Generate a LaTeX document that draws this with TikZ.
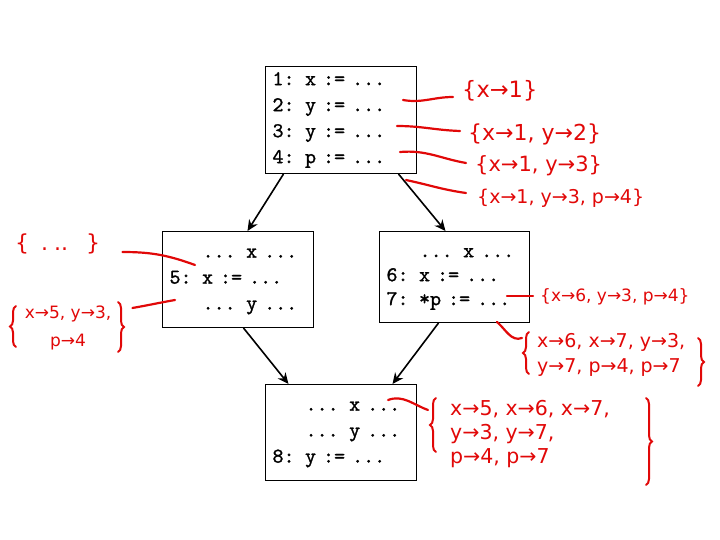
\documentclass[tikz,border=0pt]{standalone}
\usepackage{fontspec}
\newfontfamily\hand{DejaVu Sans}
\newfontfamily\codefont{lmmono10-regular.otf}[FakeBold=1.2]
\usetikzlibrary{arrows.meta,decorations.pathreplacing}
\definecolor{ink}{RGB}{225,8,8}
\newcommand{\ind}{\phantom{000}}
\begin{document}
\begin{tikzpicture}[x=1pt,y=-1pt,
  codebox/.style={draw, line width=1pt, inner xsep=7pt, inner ysep=0pt,
    text width=137pt, align=left, anchor=north west,
    font=\codefont\fontsize{21}{26}\selectfont},
  flow/.style={-{Stealth[length=11pt,width=10pt]}, line width=1.6pt},
  note/.style={text=ink, inner sep=0pt, anchor=west, font=\hand\fontsize{20}{24}\selectfont},
  wire/.style={ink, line width=2.2pt, line cap=round},
  curly/.style={ink, line width=2pt, line cap=round, decorate, decoration={brace, amplitude=6pt}}]
\useasboundingbox (0,0) rectangle (720,540);
% code boxes
\node[codebox, minimum height=107pt] (b1) at (265,66)
  {1: x := ...\\2: y := ...\\3: y := ...\\4: p := ...};
\node[codebox, minimum height=96pt] (b5) at (162,231)
  {\ind... x ...\\5: x := ...\\\ind... y ...};
\node[codebox, minimum height=91pt, text width=136pt, font=\codefont\fontsize{21}{24}\selectfont] (b6) at (379,231)
  {\ind... x ...\\6: x := ...\\7: *p := ...};
\node[codebox, minimum height=96pt] (b8) at (265,384)
  {\ind... x ...\\\ind... y ...\\8: y := ...};
% flow arrows
\draw[flow] ([xshift=-57.5pt]b1.south) -- ([xshift=9.5pt]b5.north);
\draw[flow] ([xshift=57.5pt]b1.south) -- ([xshift=-9pt]b6.north);
\draw[flow] ([xshift=5.5pt]b5.south) -- ([xshift=-52.5pt]b8.north);
\draw[flow] ([xshift=-16pt]b6.south) -- ([xshift=51.5pt]b8.north);
% annotations
\node[note, font=\hand\fontsize{22.5}{26}\selectfont] (n1) at (462,91) {\{x→1\}};
\node[note, font=\hand\fontsize{22}{26}\selectfont] (n2) at (468,134) {\{x→1, y→2\}};
\node[note, font=\hand\fontsize{21}{26}\selectfont] (n3) at (475,166) {\{x→1, y→3\}};
\node[note, font=\hand\fontsize{19}{24}\selectfont] (n4) at (477,198) {\{x→1, y→3, p→4\}};
\node[note, font=\hand\fontsize{22}{26}\selectfont] (n5) at (15,244) {\{\hspace{12pt}.\hspace{6pt}..\hspace{18pt}\}};
\node[note, anchor=center, align=center, font=\hand\fontsize{17}{28}\selectfont] (n6) at (68,328)
  {x→5, y→3,\\p→4};
\node[note, font=\hand\fontsize{17}{22}\selectfont] (n7) at (540,297) {\{x→6, y→3, p→4\}};
\node[note, align=left, font=\hand\fontsize{19}{25}\selectfont] (n8) at (537,355)
  {x→6, x→7, y→3,\\y→7, p→4, p→7};
\node[note, align=left, font=\hand\fontsize{20.5}{24}\selectfont] (n9) at (450,434)
  {x→5, x→6, x→7,\\y→3, y→7,\\p→4, p→7};
% hand-drawn braces
\draw[curly] (16,347) -- (16,306);
\draw[curly] (118,302) -- (118,352);
\draw[curly] (529,374) -- (529,332);
\draw[curly] (698,338) -- (698,386);
\draw[curly] (436,452) -- (436,398);
\draw[curly] (646,398) -- (646,485);
% connector scribbles
\coordinate (s1) at (403,100);
\coordinate (s2) at (397,126);
\coordinate (s3) at (400,152);
\coordinate (s4) at (406,180);
\coordinate (s5) at (195,265);
\coordinate (s6) at (175,300);
\coordinate (s7) at (507,296);
\coordinate (s8) at (497,322);
\coordinate (s9) at (388,400);
\draw[wire] (s1) to[out=-10,in=180] ([shift={(-9,6)}]n1.west);
\draw[wire] (s2) to[out=0,in=178] ([shift={(-8,-3)}]n2.west);
\draw[wire] (s3) to[out=5,in=170] ([shift={(-9,-3)}]n3.west);
\draw[wire] (s4) to[out=-12,in=172] ([shift={(-11,-5)}]n4.west);
\draw[wire] ([shift={(22,8)}]n5.east) to[out=0,in=160] (s5);
\draw[wire] ([shift={(21,-20)}]n6.east) to[out=10,in=190] (s6);
\draw[wire] (s7) -- ([shift={(-7,-1)}]n7.west);
\draw[wire] (s8) to[out=-40,in=200] ([shift={(-15,-17)}]n8.west);
\draw[wire] (s9) to[out=20,in=160] ([shift={(-22,-24)}]n9.west);
\end{tikzpicture}
\end{document}
